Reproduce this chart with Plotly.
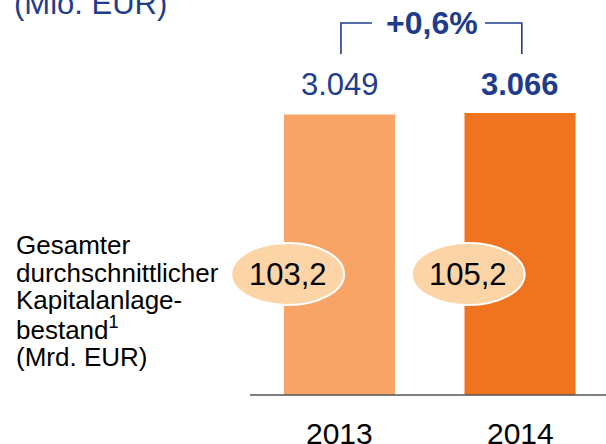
import plotly.graph_objects as go

years = ["2013", "2014"]
premiums = [3049, 3066]            # Mio. EUR
premium_labels = ["3.049", "3.066"]
investments = ["103,2", "105,2"]   # Mrd. EUR
change_label = "+0,6%"
unit_title = "(Mio. EUR)"
left_lines = ["Gesamter", "durchschnittlicher", "Kapitalanlage-", "bestand<sup>1</sup>", "(Mrd. EUR)"]

bar_colors = ["#F7A466", "#F07320"]
blue = "#1F3C8C"
FONT = "Liberation Sans, Arial, sans-serif"
W, H = 606, 444


def py(px):
    return 1 - px / H


fig = go.Figure()
fig.add_trace(go.Bar(
    x=years, y=premiums, width=0.615,
    marker=dict(color=bar_colors, line=dict(width=0)),
    hoverinfo="skip",
))

ann = []
shapes = []
for i, yr in enumerate(years):
    # value above bar
    ann.append(dict(x=i, y=py(85), xref="x", yref="paper",
                    text=premium_labels[i] if i == 0 else "<b>%s</b>" % premium_labels[i],
                    showarrow=False, font=dict(family=FONT, size=31, color=blue),
                    xanchor="center", yanchor="middle"))
    # year label
    ann.append(dict(x=i, y=py(433), xref="x", yref="paper", text=yr, showarrow=False,
                    font=dict(family=FONT, size=30, color="black"), xanchor="center", yanchor="middle"))
    # ellipse
    shapes.append(dict(type="circle", xref="x", yref="paper", x0=i - 0.6, x1=i + 0.026,
                       y0=py(305), y1=py(243), fillcolor="#FDD4A6",
                       line=dict(color="white", width=2), layer="above"))
    ann.append(dict(x=i - 0.287, y=py(274), xref="x", yref="paper", text=investments[i], showarrow=False,
                    font=dict(family=FONT, size=31, color="black"), xanchor="center", yanchor="middle"))

# bracket
shapes.append(dict(type="path", xref="x", yref="paper",
                   path="M 0.008,%f L 0.008,%f L 0.18,%f" % (py(54), py(23), py(23)),
                   line=dict(color=blue, width=1.6)))
shapes.append(dict(type="path", xref="x", yref="paper",
                   path="M 0.806,%f L 1.01,%f L 1.01,%f" % (py(23), py(23), py(54)),
                   line=dict(color=blue, width=1.6)))
ann.append(dict(x=0.51, y=py(23), xref="x", yref="paper", text="<b>%s</b>" % change_label, showarrow=False,
                font=dict(family=FONT, size=32, color=blue), xanchor="center", yanchor="middle"))

# baseline
shapes.append(dict(type="line", xref="paper", yref="y", x0=250 / W, x1=1, y0=0, y1=0,
                   line=dict(color="#555555", width=1.5)))

# title
ann.append(dict(x=12 / W, y=py(3), xref="paper", yref="paper", text=unit_title, showarrow=False,
                font=dict(family=FONT, size=31, color=blue), xanchor="left", yanchor="middle"))

# left text block
for line, ypx in zip(left_lines, [245, 273, 300, 328, 357]):
    ann.append(dict(x=14 / W, y=py(ypx), xref="paper", yref="paper", text=line, showarrow=False,
                    font=dict(family=FONT, size=26, color="black"), xanchor="left", yanchor="middle"))

scale = 282 / 3066
fig.update_layout(
    width=W, height=H, autosize=False,
    margin=dict(l=0, r=0, t=0, b=0),
    paper_bgcolor="white", plot_bgcolor="white",
    showlegend=False,
    xaxis=dict(type="category", range=[-339.5 / 180.5, 1 + 86 / 180.5], showticklabels=False,
               showgrid=False, zeroline=False, showline=False, fixedrange=True),
    yaxis=dict(range=[-49 / scale, 395 / scale], visible=False, fixedrange=True),
    annotations=ann, shapes=shapes,
)

fig.write_html("out.html", config={"displayModeBar": False},
               post_script="document.body.style.margin='0';document.body.style.overflow='hidden';")
